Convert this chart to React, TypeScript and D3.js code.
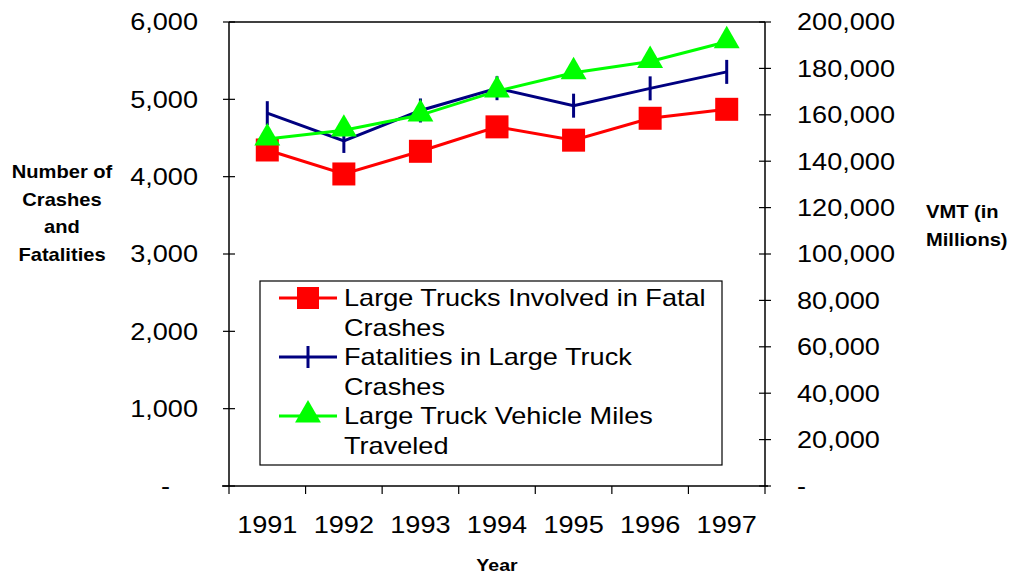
import React from "react";
import * as d3 from "d3";

const years = ["1991", "1992", "1993", "1994", "1995", "1996", "1997"];
const trucksInFatal = [4345, 4035, 4328, 4644, 4472, 4755, 4871];
const fatalities = [4821, 4462, 4856, 5144, 4918, 5142, 5355];
const vmt = [149543, 153384, 159888, 170216, 178156, 182971, 191477];
const leftTicks = [0, 1000, 2000, 3000, 4000, 5000, 6000];
const rightTicks = [0, 20000, 40000, 60000, 80000, 100000, 120000, 140000, 160000, 180000, 200000];

const W = 1016;
const H = 576;
const plot = { left: 229, right: 765, top: 22, bottom: 486 };
const font = "'Liberation Sans', Arial, sans-serif";

const fmt = (v: number) => (v === 0 ? "-" : d3.format(",")(v));

// text is a bit wider in the original, so stretch it horizontally
const T = ({ x, y, size = 24, anchor = "start", bold = false, sx = 1.13, children }: any) => (
  <g transform={`translate(${x},${y}) scale(${sx},1)`}>
    <text dy="0.35em" textAnchor={anchor} fontSize={size} fontWeight={bold ? "bold" : "normal"}>
      {children}
    </text>
  </g>
);

const App = () => {
  const x = d3.scaleBand().domain(years).range([plot.left, plot.right]);
  const yL = d3.scaleLinear().domain([0, 6000]).range([plot.bottom, plot.top]);
  const yR = d3.scaleLinear().domain([0, 200000]).range([plot.bottom, plot.top]);
  const cx = (yr: string) => (x(yr) as number) + x.bandwidth() / 2;

  const line = d3
    .line<[number, number]>()
    .x((d) => d[0])
    .y((d) => d[1]);

  const redPts: [number, number][] = years.map((yr, i) => [cx(yr), yL(trucksInFatal[i])]);
  const bluePts: [number, number][] = years.map((yr, i) => [cx(yr), yL(fatalities[i])]);
  const greenPts: [number, number][] = years.map((yr, i) => [cx(yr), yR(vmt[i])]);

  const tri = d3.symbol().type(d3.symbolTriangle).size(290)();
  const bounds = [...years.map((yr) => x(yr) as number), plot.right];

  const legendItems = [
    { lines: ["Large Trucks Involved in Fatal", "Crashes"], color: "#ff0000", kind: "square" },
    { lines: ["Fatalities in Large Truck", "Crashes"], color: "#000080", kind: "tick" },
    { lines: ["Large Truck Vehicle Miles", "Traveled"], color: "#00ff00", kind: "tri" },
  ];

  return (
    <svg
      width={W}
      height={H}
      style={{ position: "absolute", left: 0, top: 0, background: "#fff" }}
      fontFamily={font}
    >
      {/* frame */}
      <line x1={plot.left} x2={plot.right} y1={plot.top} y2={plot.top} stroke="#000" strokeWidth={1.5} />
      <line x1={plot.left} x2={plot.left} y1={plot.top} y2={plot.bottom} stroke="#000" strokeWidth={1.5} />
      <line x1={plot.right} x2={plot.right} y1={plot.top} y2={plot.bottom} stroke="#000" strokeWidth={1.5} />
      <line x1={plot.left - 7} x2={plot.right + 3} y1={plot.bottom} y2={plot.bottom} stroke="#000" strokeWidth={1.5} />

      {/* left axis */}
      {leftTicks.map((t) => (
        <g key={"l" + t}>
          <line x1={plot.left - 6} x2={plot.left + 6} y1={yL(t)} y2={yL(t)} stroke="#000" strokeWidth={1.2} />
          <T x={t === 0 ? 170 : 198} y={yL(t)} anchor="end">
            {fmt(t)}
          </T>
        </g>
      ))}

      {/* right axis */}
      {rightTicks.map((t) => (
        <g key={"r" + t}>
          <line x1={plot.right - 6} x2={plot.right + 6} y1={yR(t)} y2={yR(t)} stroke="#000" strokeWidth={1.2} />
          <T x={797} y={yR(t)}>
            {fmt(t)}
          </T>
        </g>
      ))}

      {/* x axis */}
      {bounds.map((b, i) => (
        <line key={"b" + i} x1={b} x2={b} y1={plot.bottom} y2={plot.bottom + 8} stroke="#000" strokeWidth={1.2} />
      ))}
      {years.map((yr) => (
        <T key={yr} x={cx(yr)} y={525} anchor="middle">
          {yr}
        </T>
      ))}

      {/* axis titles */}
      <T x={497} y={565} size={17} bold anchor="middle" sx={1.15}>
        Year
      </T>
      {["Number of", "Crashes", "and", "Fatalities"].map((s, i) => (
        <T key={s} x={62} y={172 + i * 27.5} size={17.5} bold anchor="middle" sx={1.15}>
          {s}
        </T>
      ))}
      {["VMT (in", "Millions)"].map((s, i) => (
        <T key={s} x={926} y={212 + i * 28} size={17.5} bold sx={1.15}>
          {s}
        </T>
      ))}

      {/* red series */}
      <path d={line(redPts) ?? ""} fill="none" stroke="#ff0000" strokeWidth={3} />
      {redPts.map((p, i) => (
        <rect key={"rs" + i} x={p[0] - 11.5} y={p[1] - 11.5} width={23} height={23} fill="#ff0000" />
      ))}

      {/* blue series */}
      <path d={line(bluePts) ?? ""} fill="none" stroke="#000080" strokeWidth={3} />
      {bluePts.map((p, i) => (
        <line key={"bt" + i} x1={p[0]} x2={p[0]} y1={p[1] - 12} y2={p[1] + 12} stroke="#000080" strokeWidth={3} />
      ))}

      {/* green series */}
      <path d={line(greenPts) ?? ""} fill="none" stroke="#00ff00" strokeWidth={3} />
      {greenPts.map((p, i) => (
        <path key={"gt" + i} d={tri ?? ""} transform={`translate(${p[0]},${p[1] - 1})`} fill="#00ff00" />
      ))}

      {/* legend */}
      <rect x={260} y={281} width={462} height={184} fill="#fff" stroke="#000" strokeWidth={1.2} />
      {legendItems.map((it, i) => {
        const y0 = 298 + i * 59;
        return (
          <g key={"lg" + i}>
            <line x1={279} x2={337} y1={y0} y2={y0} stroke={it.color} strokeWidth={3} />
            {it.kind === "square" && <rect x={297} y={y0 - 11} width={22} height={22} fill={it.color} />}
            {it.kind === "tick" && (
              <line x1={308} x2={308} y1={y0 - 11} y2={y0 + 11} stroke={it.color} strokeWidth={3} />
            )}
            {it.kind === "tri" && <path d={tri ?? ""} transform={`translate(308,${y0 - 1})`} fill={it.color} />}
            {it.lines.map((s, j) => (
              <T key={j} x={344} y={y0 + j * 30}>
                {s}
              </T>
            ))}
          </g>
        );
      })}
    </svg>
  );
};

export default App;
